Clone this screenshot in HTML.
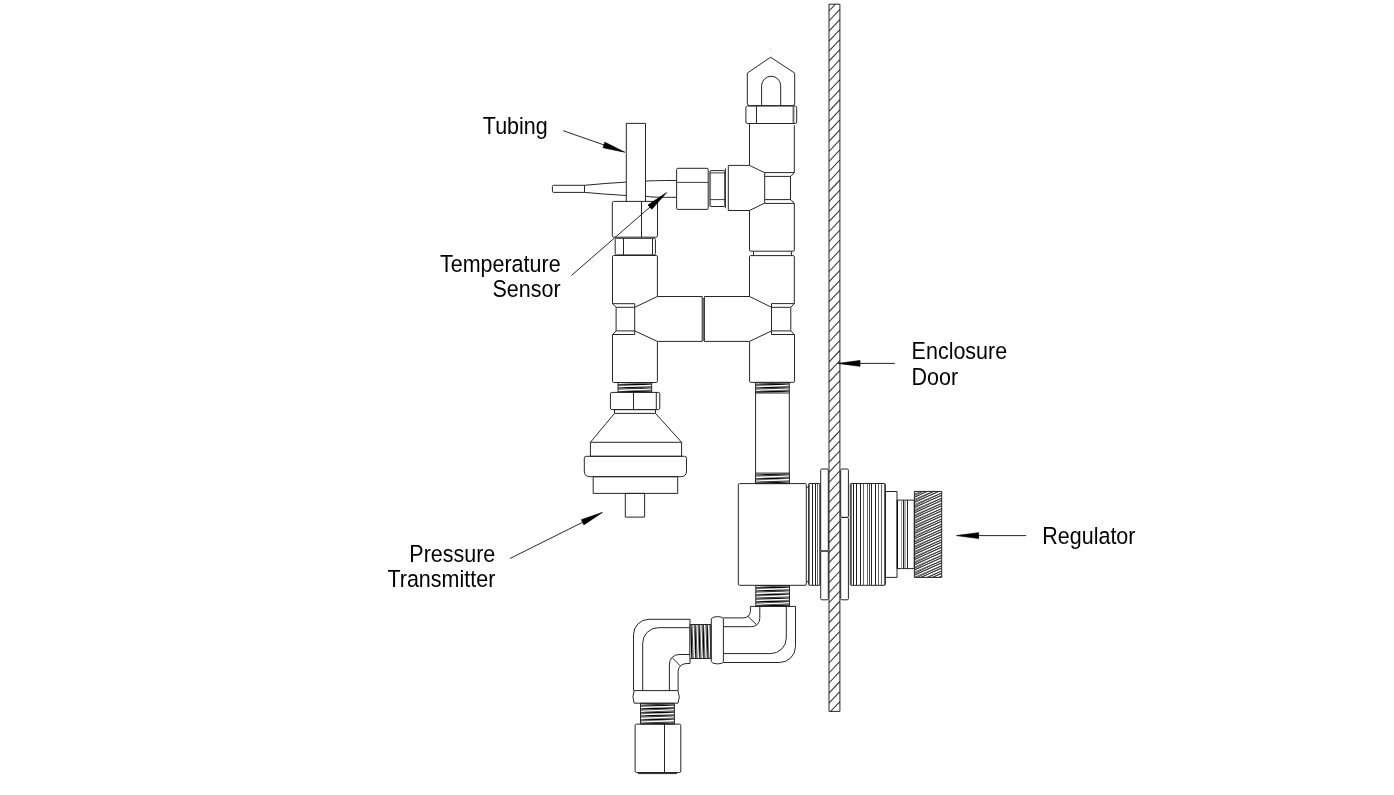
<!DOCTYPE html>
<html><head><meta charset="utf-8"><style>
html,body{margin:0;padding:0;background:#fff;width:1394px;height:795px;overflow:hidden}
svg{position:absolute;left:0;top:0;display:block;will-change:transform}
text{font-family:"Liberation Sans",sans-serif;font-size:21.5px;fill:#000;stroke:none}
</style></head><body>
<svg width="1394" height="795" viewBox="0 0 1394 795">
<g fill="none" stroke="#262626" stroke-width="1.0" stroke-linecap="butt" stroke-linejoin="round">
<clipPath id="door"><rect x="829.0" y="4.2" width="10.899999999999977" height="707.1999999999999"/></clipPath>
<g clip-path="url(#door)">
<line x1="829.0" y1="10.98" x2="839.9" y2="-0.57" stroke-width="1.05" stroke="#333"/>
<line x1="829.0" y1="21.01" x2="839.9" y2="9.46" stroke-width="1.05" stroke="#333"/>
<line x1="829.0" y1="31.04" x2="839.9" y2="19.49" stroke-width="1.05" stroke="#333"/>
<line x1="829.0" y1="41.07" x2="839.9" y2="29.52" stroke-width="1.05" stroke="#333"/>
<line x1="829.0" y1="51.1" x2="839.9" y2="39.55" stroke-width="1.05" stroke="#333"/>
<line x1="829.0" y1="61.13" x2="839.9" y2="49.58" stroke-width="1.05" stroke="#333"/>
<line x1="829.0" y1="71.16" x2="839.9" y2="59.61" stroke-width="1.05" stroke="#333"/>
<line x1="829.0" y1="81.19" x2="839.9" y2="69.64" stroke-width="1.05" stroke="#333"/>
<line x1="829.0" y1="91.22" x2="839.9" y2="79.67" stroke-width="1.05" stroke="#333"/>
<line x1="829.0" y1="101.25" x2="839.9" y2="89.7" stroke-width="1.05" stroke="#333"/>
<line x1="829.0" y1="111.28" x2="839.9" y2="99.73" stroke-width="1.05" stroke="#333"/>
<line x1="829.0" y1="121.31" x2="839.9" y2="109.76" stroke-width="1.05" stroke="#333"/>
<line x1="829.0" y1="131.34" x2="839.9" y2="119.79" stroke-width="1.05" stroke="#333"/>
<line x1="829.0" y1="141.37" x2="839.9" y2="129.82" stroke-width="1.05" stroke="#333"/>
<line x1="829.0" y1="151.4" x2="839.9" y2="139.85" stroke-width="1.05" stroke="#333"/>
<line x1="829.0" y1="161.43" x2="839.9" y2="149.88" stroke-width="1.05" stroke="#333"/>
<line x1="829.0" y1="171.46" x2="839.9" y2="159.91" stroke-width="1.05" stroke="#333"/>
<line x1="829.0" y1="181.49" x2="839.9" y2="169.94" stroke-width="1.05" stroke="#333"/>
<line x1="829.0" y1="191.52" x2="839.9" y2="179.97" stroke-width="1.05" stroke="#333"/>
<line x1="829.0" y1="201.55" x2="839.9" y2="190.0" stroke-width="1.05" stroke="#333"/>
<line x1="829.0" y1="211.58" x2="839.9" y2="200.03" stroke-width="1.05" stroke="#333"/>
<line x1="829.0" y1="221.61" x2="839.9" y2="210.06" stroke-width="1.05" stroke="#333"/>
<line x1="829.0" y1="231.64" x2="839.9" y2="220.09" stroke-width="1.05" stroke="#333"/>
<line x1="829.0" y1="241.67" x2="839.9" y2="230.12" stroke-width="1.05" stroke="#333"/>
<line x1="829.0" y1="251.7" x2="839.9" y2="240.15" stroke-width="1.05" stroke="#333"/>
<line x1="829.0" y1="261.73" x2="839.9" y2="250.18" stroke-width="1.05" stroke="#333"/>
<line x1="829.0" y1="271.76" x2="839.9" y2="260.21" stroke-width="1.05" stroke="#333"/>
<line x1="829.0" y1="281.79" x2="839.9" y2="270.24" stroke-width="1.05" stroke="#333"/>
<line x1="829.0" y1="291.82" x2="839.9" y2="280.27" stroke-width="1.05" stroke="#333"/>
<line x1="829.0" y1="301.85" x2="839.9" y2="290.3" stroke-width="1.05" stroke="#333"/>
<line x1="829.0" y1="311.88" x2="839.9" y2="300.33" stroke-width="1.05" stroke="#333"/>
<line x1="829.0" y1="321.91" x2="839.9" y2="310.36" stroke-width="1.05" stroke="#333"/>
<line x1="829.0" y1="331.94" x2="839.9" y2="320.39" stroke-width="1.05" stroke="#333"/>
<line x1="829.0" y1="341.97" x2="839.9" y2="330.42" stroke-width="1.05" stroke="#333"/>
<line x1="829.0" y1="352.0" x2="839.9" y2="340.45" stroke-width="1.05" stroke="#333"/>
<line x1="829.0" y1="362.03" x2="839.9" y2="350.48" stroke-width="1.05" stroke="#333"/>
<line x1="829.0" y1="372.06" x2="839.9" y2="360.51" stroke-width="1.05" stroke="#333"/>
<line x1="829.0" y1="382.09" x2="839.9" y2="370.54" stroke-width="1.05" stroke="#333"/>
<line x1="829.0" y1="392.12" x2="839.9" y2="380.57" stroke-width="1.05" stroke="#333"/>
<line x1="829.0" y1="402.15" x2="839.9" y2="390.6" stroke-width="1.05" stroke="#333"/>
<line x1="829.0" y1="412.18" x2="839.9" y2="400.63" stroke-width="1.05" stroke="#333"/>
<line x1="829.0" y1="422.21" x2="839.9" y2="410.66" stroke-width="1.05" stroke="#333"/>
<line x1="829.0" y1="432.24" x2="839.9" y2="420.69" stroke-width="1.05" stroke="#333"/>
<line x1="829.0" y1="442.27" x2="839.9" y2="430.72" stroke-width="1.05" stroke="#333"/>
<line x1="829.0" y1="452.3" x2="839.9" y2="440.75" stroke-width="1.05" stroke="#333"/>
<line x1="829.0" y1="462.33" x2="839.9" y2="450.78" stroke-width="1.05" stroke="#333"/>
<line x1="829.0" y1="472.36" x2="839.9" y2="460.81" stroke-width="1.05" stroke="#333"/>
<line x1="829.0" y1="482.39" x2="839.9" y2="470.84" stroke-width="1.05" stroke="#333"/>
<line x1="829.0" y1="492.42" x2="839.9" y2="480.87" stroke-width="1.05" stroke="#333"/>
<line x1="829.0" y1="502.45" x2="839.9" y2="490.9" stroke-width="1.05" stroke="#333"/>
<line x1="829.0" y1="512.48" x2="839.9" y2="500.93" stroke-width="1.05" stroke="#333"/>
<line x1="829.0" y1="522.51" x2="839.9" y2="510.96" stroke-width="1.05" stroke="#333"/>
<line x1="829.0" y1="532.54" x2="839.9" y2="520.99" stroke-width="1.05" stroke="#333"/>
<line x1="829.0" y1="542.57" x2="839.9" y2="531.02" stroke-width="1.05" stroke="#333"/>
<line x1="829.0" y1="552.6" x2="839.9" y2="541.05" stroke-width="1.05" stroke="#333"/>
<line x1="829.0" y1="562.63" x2="839.9" y2="551.08" stroke-width="1.05" stroke="#333"/>
<line x1="829.0" y1="572.66" x2="839.9" y2="561.11" stroke-width="1.05" stroke="#333"/>
<line x1="829.0" y1="582.69" x2="839.9" y2="571.14" stroke-width="1.05" stroke="#333"/>
<line x1="829.0" y1="592.72" x2="839.9" y2="581.17" stroke-width="1.05" stroke="#333"/>
<line x1="829.0" y1="602.75" x2="839.9" y2="591.2" stroke-width="1.05" stroke="#333"/>
<line x1="829.0" y1="612.78" x2="839.9" y2="601.23" stroke-width="1.05" stroke="#333"/>
<line x1="829.0" y1="622.81" x2="839.9" y2="611.26" stroke-width="1.05" stroke="#333"/>
<line x1="829.0" y1="632.84" x2="839.9" y2="621.29" stroke-width="1.05" stroke="#333"/>
<line x1="829.0" y1="642.87" x2="839.9" y2="631.32" stroke-width="1.05" stroke="#333"/>
<line x1="829.0" y1="652.9" x2="839.9" y2="641.35" stroke-width="1.05" stroke="#333"/>
<line x1="829.0" y1="662.93" x2="839.9" y2="651.38" stroke-width="1.05" stroke="#333"/>
<line x1="829.0" y1="672.96" x2="839.9" y2="661.41" stroke-width="1.05" stroke="#333"/>
<line x1="829.0" y1="682.99" x2="839.9" y2="671.44" stroke-width="1.05" stroke="#333"/>
<line x1="829.0" y1="693.02" x2="839.9" y2="681.47" stroke-width="1.05" stroke="#333"/>
<line x1="829.0" y1="703.05" x2="839.9" y2="691.5" stroke-width="1.05" stroke="#333"/>
<line x1="829.0" y1="713.08" x2="839.9" y2="701.53" stroke-width="1.05" stroke="#333"/>
</g>
<rect x="829.0" y="4.2" width="10.9" height="707.2" rx="0"/>
<path d="M747.3,73.1 L770.6,57.2 L794.7,73.1 L794.7,103.2 Q794.7,105.6 792.3,105.6 L749.7,105.6 Q747.3,105.6 747.3,103.2 Z"/>
<path d="M761.6,105.4 L761.6,85.8 A9.55,9.55 0 0 1 780.7,85.8 L780.7,105.4"/>
<rect x="745.9" y="106.0" width="50.8" height="17.5" rx="1.5"/>
<line x1="756.5" y1="106.0" x2="756.5" y2="123.5"/>
<line x1="793.2" y1="106.0" x2="793.2" y2="123.5"/>
<line x1="794.3" y1="106.5" x2="794.3" y2="123.0" stroke-width="0.6" stroke="#777"/>
<line x1="749.5" y1="123.5" x2="749.5" y2="165.4"/>
<line x1="794.3" y1="125.3" x2="794.3" y2="172.6"/>
<path d="M749.5,165.4 L728.3,165.4 L728.3,210.5 L749.5,210.5"/>
<line x1="749.5" y1="165.4" x2="764.4" y2="172.6"/>
<line x1="749.5" y1="210.5" x2="764.4" y2="203.2"/>
<line x1="725.4" y1="168.3" x2="725.4" y2="208.2"/>
<line x1="764.7" y1="172.6" x2="764.7" y2="203.4"/>
<line x1="790.5" y1="176.4" x2="790.5" y2="199.6"/>
<line x1="764.4" y1="172.6" x2="794.3" y2="172.6"/>
<line x1="764.7" y1="176.4" x2="790.8" y2="176.4"/>
<line x1="764.7" y1="199.6" x2="790.8" y2="199.6"/>
<line x1="764.4" y1="203.4" x2="794.3" y2="203.4"/>
<line x1="794.3" y1="172.6" x2="790.8" y2="176.4"/>
<line x1="790.8" y1="199.6" x2="794.3" y2="203.4"/>
<path d="M749.5,210.5 L749.5,250.0 Q749.5,251.2 750.7,251.2 L793.1,251.2 Q794.3,251.2 794.3,250.0 L794.3,203.4"/>
<line x1="753.5" y1="251.2" x2="753.5" y2="255.6"/>
<line x1="791.4" y1="251.2" x2="791.4" y2="255.6"/>
<path d="M749.5,296.5 L749.5,256.8 Q749.5,255.6 750.7,255.6 L793.1,255.6 Q794.3,255.6 794.3,256.8 L794.3,303.6"/>
<line x1="749.6" y1="296.5" x2="771.5" y2="307.3"/>
<line x1="749.6" y1="341.4" x2="771.5" y2="330.9"/>
<line x1="771.5" y1="303.6" x2="771.5" y2="334.5"/>
<line x1="790.8" y1="307.3" x2="790.8" y2="330.9"/>
<line x1="771.5" y1="303.6" x2="794.3" y2="303.6"/>
<line x1="771.5" y1="307.3" x2="790.8" y2="307.3"/>
<line x1="771.5" y1="330.9" x2="790.8" y2="330.9"/>
<line x1="771.5" y1="334.5" x2="794.3" y2="334.5"/>
<line x1="794.3" y1="303.6" x2="790.8" y2="307.3"/>
<line x1="790.8" y1="330.9" x2="794.3" y2="334.5"/>
<path d="M749.6,341.4 L749.6,381.2 Q749.6,382.4 750.8,382.4 L793.3,382.4 Q794.5,382.4 794.5,381.2 L794.5,334.5"/>
<path d="M749.6,296.5 L704.4,296.5 L704.4,341.4 L749.6,341.4"/>
<path d="M657.4,296.5 L702.2,296.5 L702.2,341.4 L657.4,341.4"/>
<line x1="703.3" y1="298.8" x2="703.3" y2="341.0" stroke-width="0.8"/>
<path d="M702.2,297.5 L703.3,298.8 L704.4,297.5" stroke-width="0.7"/>
<line x1="657.4" y1="296.5" x2="634.7" y2="307.3"/>
<line x1="657.4" y1="341.4" x2="634.7" y2="330.9"/>
<line x1="616.1" y1="307.3" x2="616.1" y2="330.9"/>
<line x1="634.7" y1="303.7" x2="634.7" y2="334.5"/>
<line x1="612.5" y1="303.7" x2="634.7" y2="303.7"/>
<line x1="616.1" y1="307.3" x2="634.7" y2="307.3"/>
<line x1="616.1" y1="330.9" x2="634.7" y2="330.9"/>
<line x1="612.5" y1="334.5" x2="634.7" y2="334.5"/>
<line x1="612.5" y1="303.7" x2="616.1" y2="307.3"/>
<line x1="616.1" y1="330.9" x2="612.5" y2="334.5"/>
<path d="M612.5,303.7 L612.5,256.7 Q612.5,255.5 613.7,255.5 L656.2,255.5 Q657.4,255.5 657.4,256.7 L657.4,296.5"/>
<path d="M612.5,334.5 L612.5,381.3 Q612.5,382.5 613.7,382.5 L656.2,382.5 Q657.4,382.5 657.4,381.3 L657.4,341.4"/>
<rect x="615.2" y="238.3" width="40.2" height="16.6" rx="1.2"/>
<line x1="623.5" y1="238.3" x2="623.5" y2="254.9"/>
<line x1="652.5" y1="238.3" x2="652.5" y2="254.9"/>
<rect x="612.3" y="201.4" width="45.2" height="35.8" rx="1.5"/>
<line x1="641.5" y1="201.4" x2="641.5" y2="237.2"/>
<path d="M626.3,201.4 L626.3,123.4 L645.5,123.4 L645.5,201.4"/>
<path d="M584.5,185.3 L553.6,185.3 Q552.4,185.3 552.4,186.5 L552.4,191.2 Q552.4,192.4 553.6,192.4 L584.5,192.4 Z"/>
<path d="M584.5,185.3 Q605,183.3 626.3,182.1"/>
<path d="M584.5,192.4 Q605,194.3 626.3,195.5"/>
<path d="M645.5,181.2 Q650,180.5 676.6,180.5"/>
<path d="M645.5,196.2 Q652,197.6 676.6,197.3"/>
<rect x="676.6" y="168.3" width="31.6" height="41.1" rx="1.2"/>
<line x1="676.6" y1="182.4" x2="708.2" y2="182.4" stroke-width="0.9"/>
<rect x="709.9" y="170.6" width="14.9" height="35.9" rx="0.8"/>
<line x1="709.9" y1="172.9" x2="724.8" y2="172.9" stroke-width="0.9"/>
<line x1="709.9" y1="199.6" x2="724.8" y2="199.6" stroke-width="0.9"/>
<line x1="710.6" y1="171" x2="710.6" y2="206" stroke-width="0.7" stroke="#666"/>
<clipPath id="c143"><rect x="618.0" y="382.5" width="33.7" height="9.7"/></clipPath>
<g clip-path="url(#c143)">
<rect x="618.0" y="382.5" width="33.7" height="9.7" fill="#6a6a6a" stroke="none"/>
<line x1="618.0" y1="379.90" x2="651.7" y2="381.50" stroke-width="1.3" stroke="#000"/>
<line x1="618.0" y1="379.70" x2="651.7" y2="378.10" stroke-width="1.3" stroke="#fff"/>
<line x1="618.0" y1="383.50" x2="651.7" y2="385.10" stroke-width="1.3" stroke="#000"/>
<line x1="618.0" y1="383.30" x2="651.7" y2="381.70" stroke-width="1.3" stroke="#fff"/>
<line x1="618.0" y1="387.10" x2="651.7" y2="388.70" stroke-width="1.3" stroke="#000"/>
<line x1="618.0" y1="386.90" x2="651.7" y2="385.30" stroke-width="1.3" stroke="#fff"/>
<line x1="618.0" y1="390.70" x2="651.7" y2="392.30" stroke-width="1.3" stroke="#000"/>
<line x1="618.0" y1="390.50" x2="651.7" y2="388.90" stroke-width="1.3" stroke="#fff"/>
<line x1="618.0" y1="394.30" x2="651.7" y2="395.90" stroke-width="1.3" stroke="#000"/>
<line x1="618.0" y1="394.10" x2="651.7" y2="392.50" stroke-width="1.3" stroke="#fff"/>
</g>
<rect x="618.0" y="382.5" width="33.7" height="9.7" rx="0"/>
<clipPath id="c158"><rect x="755.6" y="382.4" width="33.7" height="10.6"/></clipPath>
<g clip-path="url(#c158)">
<rect x="755.6" y="382.4" width="33.7" height="10.6" fill="#6a6a6a" stroke="none"/>
<line x1="755.6" y1="379.80" x2="789.3" y2="381.40" stroke-width="1.3" stroke="#000"/>
<line x1="755.6" y1="379.60" x2="789.3" y2="378.00" stroke-width="1.3" stroke="#fff"/>
<line x1="755.6" y1="383.40" x2="789.3" y2="385.00" stroke-width="1.3" stroke="#000"/>
<line x1="755.6" y1="383.20" x2="789.3" y2="381.60" stroke-width="1.3" stroke="#fff"/>
<line x1="755.6" y1="387.00" x2="789.3" y2="388.60" stroke-width="1.3" stroke="#000"/>
<line x1="755.6" y1="386.80" x2="789.3" y2="385.20" stroke-width="1.3" stroke="#fff"/>
<line x1="755.6" y1="390.60" x2="789.3" y2="392.20" stroke-width="1.3" stroke="#000"/>
<line x1="755.6" y1="390.40" x2="789.3" y2="388.80" stroke-width="1.3" stroke="#fff"/>
<line x1="755.6" y1="394.20" x2="789.3" y2="395.80" stroke-width="1.3" stroke="#000"/>
<line x1="755.6" y1="394.00" x2="789.3" y2="392.40" stroke-width="1.3" stroke="#fff"/>
</g>
<rect x="755.6" y="382.4" width="33.7" height="10.6" rx="0"/>
<clipPath id="c173"><rect x="755.5" y="473.1" width="34.0" height="10.5"/></clipPath>
<g clip-path="url(#c173)">
<rect x="755.5" y="473.1" width="34.0" height="10.5" fill="#6a6a6a" stroke="none"/>
<line x1="755.5" y1="470.50" x2="789.5" y2="472.10" stroke-width="1.3" stroke="#000"/>
<line x1="755.5" y1="470.30" x2="789.5" y2="468.70" stroke-width="1.3" stroke="#fff"/>
<line x1="755.5" y1="474.10" x2="789.5" y2="475.70" stroke-width="1.3" stroke="#000"/>
<line x1="755.5" y1="473.90" x2="789.5" y2="472.30" stroke-width="1.3" stroke="#fff"/>
<line x1="755.5" y1="477.70" x2="789.5" y2="479.30" stroke-width="1.3" stroke="#000"/>
<line x1="755.5" y1="477.50" x2="789.5" y2="475.90" stroke-width="1.3" stroke="#fff"/>
<line x1="755.5" y1="481.30" x2="789.5" y2="482.90" stroke-width="1.3" stroke="#000"/>
<line x1="755.5" y1="481.10" x2="789.5" y2="479.50" stroke-width="1.3" stroke="#fff"/>
<line x1="755.5" y1="484.90" x2="789.5" y2="486.50" stroke-width="1.3" stroke="#000"/>
<line x1="755.5" y1="484.70" x2="789.5" y2="483.10" stroke-width="1.3" stroke="#fff"/>
</g>
<rect x="755.5" y="473.1" width="34.0" height="10.5" rx="0"/>
<clipPath id="c188"><rect x="755.8" y="585.5" width="33.7" height="20.8"/></clipPath>
<g clip-path="url(#c188)">
<rect x="755.8" y="585.5" width="33.7" height="20.8" fill="#6a6a6a" stroke="none"/>
<line x1="755.8" y1="582.90" x2="789.5" y2="584.50" stroke-width="1.3" stroke="#000"/>
<line x1="755.8" y1="582.70" x2="789.5" y2="581.10" stroke-width="1.3" stroke="#fff"/>
<line x1="755.8" y1="586.50" x2="789.5" y2="588.10" stroke-width="1.3" stroke="#000"/>
<line x1="755.8" y1="586.30" x2="789.5" y2="584.70" stroke-width="1.3" stroke="#fff"/>
<line x1="755.8" y1="590.10" x2="789.5" y2="591.70" stroke-width="1.3" stroke="#000"/>
<line x1="755.8" y1="589.90" x2="789.5" y2="588.30" stroke-width="1.3" stroke="#fff"/>
<line x1="755.8" y1="593.70" x2="789.5" y2="595.30" stroke-width="1.3" stroke="#000"/>
<line x1="755.8" y1="593.50" x2="789.5" y2="591.90" stroke-width="1.3" stroke="#fff"/>
<line x1="755.8" y1="597.30" x2="789.5" y2="598.90" stroke-width="1.3" stroke="#000"/>
<line x1="755.8" y1="597.10" x2="789.5" y2="595.50" stroke-width="1.3" stroke="#fff"/>
<line x1="755.8" y1="600.90" x2="789.5" y2="602.50" stroke-width="1.3" stroke="#000"/>
<line x1="755.8" y1="600.70" x2="789.5" y2="599.10" stroke-width="1.3" stroke="#fff"/>
<line x1="755.8" y1="604.50" x2="789.5" y2="606.10" stroke-width="1.3" stroke="#000"/>
<line x1="755.8" y1="604.30" x2="789.5" y2="602.70" stroke-width="1.3" stroke="#fff"/>
<line x1="755.8" y1="608.10" x2="789.5" y2="609.70" stroke-width="1.3" stroke="#000"/>
<line x1="755.8" y1="607.90" x2="789.5" y2="606.30" stroke-width="1.3" stroke="#fff"/>
</g>
<rect x="755.8" y="585.5" width="33.7" height="20.8" rx="0"/>
<clipPath id="c209"><rect x="640.5" y="703.3" width="33.9" height="20.8"/></clipPath>
<g clip-path="url(#c209)">
<rect x="640.5" y="703.3" width="33.9" height="20.8" fill="#6a6a6a" stroke="none"/>
<line x1="640.5" y1="700.70" x2="674.4" y2="702.30" stroke-width="1.3" stroke="#000"/>
<line x1="640.5" y1="700.50" x2="674.4" y2="698.90" stroke-width="1.3" stroke="#fff"/>
<line x1="640.5" y1="704.30" x2="674.4" y2="705.90" stroke-width="1.3" stroke="#000"/>
<line x1="640.5" y1="704.10" x2="674.4" y2="702.50" stroke-width="1.3" stroke="#fff"/>
<line x1="640.5" y1="707.90" x2="674.4" y2="709.50" stroke-width="1.3" stroke="#000"/>
<line x1="640.5" y1="707.70" x2="674.4" y2="706.10" stroke-width="1.3" stroke="#fff"/>
<line x1="640.5" y1="711.50" x2="674.4" y2="713.10" stroke-width="1.3" stroke="#000"/>
<line x1="640.5" y1="711.30" x2="674.4" y2="709.70" stroke-width="1.3" stroke="#fff"/>
<line x1="640.5" y1="715.10" x2="674.4" y2="716.70" stroke-width="1.3" stroke="#000"/>
<line x1="640.5" y1="714.90" x2="674.4" y2="713.30" stroke-width="1.3" stroke="#fff"/>
<line x1="640.5" y1="718.70" x2="674.4" y2="720.30" stroke-width="1.3" stroke="#000"/>
<line x1="640.5" y1="718.50" x2="674.4" y2="716.90" stroke-width="1.3" stroke="#fff"/>
<line x1="640.5" y1="722.30" x2="674.4" y2="723.90" stroke-width="1.3" stroke="#000"/>
<line x1="640.5" y1="722.10" x2="674.4" y2="720.50" stroke-width="1.3" stroke="#fff"/>
<line x1="640.5" y1="725.90" x2="674.4" y2="727.50" stroke-width="1.3" stroke="#000"/>
<line x1="640.5" y1="725.70" x2="674.4" y2="724.10" stroke-width="1.3" stroke="#fff"/>
</g>
<rect x="640.5" y="703.3" width="33.9" height="20.8" rx="0"/>
<clipPath id="c230"><rect x="689.8" y="624.5" width="21.0" height="34.0"/></clipPath>
<g clip-path="url(#c230)">
<rect x="689.8" y="624.5" width="21.0" height="34.0" fill="#6a6a6a" stroke="none"/>
<line x1="688.65" y1="624.5" x2="687.05" y2="658.5" stroke-width="1.3" stroke="#000"/>
<line x1="685.10" y1="624.5" x2="686.70" y2="658.5" stroke-width="1.3" stroke="#fff"/>
<line x1="692.55" y1="624.5" x2="690.95" y2="658.5" stroke-width="1.3" stroke="#000"/>
<line x1="689.00" y1="624.5" x2="690.60" y2="658.5" stroke-width="1.3" stroke="#fff"/>
<line x1="696.45" y1="624.5" x2="694.85" y2="658.5" stroke-width="1.3" stroke="#000"/>
<line x1="692.90" y1="624.5" x2="694.50" y2="658.5" stroke-width="1.3" stroke="#fff"/>
<line x1="700.35" y1="624.5" x2="698.75" y2="658.5" stroke-width="1.3" stroke="#000"/>
<line x1="696.80" y1="624.5" x2="698.40" y2="658.5" stroke-width="1.3" stroke="#fff"/>
<line x1="704.25" y1="624.5" x2="702.65" y2="658.5" stroke-width="1.3" stroke="#000"/>
<line x1="700.70" y1="624.5" x2="702.30" y2="658.5" stroke-width="1.3" stroke="#fff"/>
<line x1="708.15" y1="624.5" x2="706.55" y2="658.5" stroke-width="1.3" stroke="#000"/>
<line x1="704.60" y1="624.5" x2="706.20" y2="658.5" stroke-width="1.3" stroke="#fff"/>
<line x1="712.05" y1="624.5" x2="710.45" y2="658.5" stroke-width="1.3" stroke="#000"/>
<line x1="708.50" y1="624.5" x2="710.10" y2="658.5" stroke-width="1.3" stroke="#fff"/>
<line x1="715.95" y1="624.5" x2="714.35" y2="658.5" stroke-width="1.3" stroke="#000"/>
<line x1="712.40" y1="624.5" x2="714.00" y2="658.5" stroke-width="1.3" stroke="#fff"/>
</g>
<rect x="689.8" y="624.5" width="21.0" height="34.0" rx="0"/>
<line x1="755.6" y1="393.0" x2="755.6" y2="473.1"/>
<line x1="789.3" y1="393.0" x2="789.3" y2="473.1"/>
<rect x="610.4" y="392.4" width="49.4" height="17.2" rx="1.5"/>
<line x1="633.5" y1="392.4" x2="633.5" y2="409.6"/>
<line x1="656.3" y1="392.4" x2="656.3" y2="409.6"/>
<rect x="614.5" y="409.6" width="41.0" height="3.8" rx="0"/>
<line x1="614.5" y1="413.4" x2="590.4" y2="442.3"/>
<line x1="655.5" y1="413.4" x2="681.6" y2="442.3"/>
<rect x="590.4" y="442.3" width="91.2" height="14.0" rx="0"/>
<path d="M586.3,456.3 L684.5,456.3 Q686.5,456.3 686.5,458.3 L686.5,471.0 Q686.5,476.7 680.8,476.7 L590.0,476.7 Q584.3,476.7 584.3,471.0 L584.3,458.3 Q584.3,456.3 586.3,456.3 Z"/>
<rect x="593.2" y="476.7" width="84.5" height="16.7" rx="0"/>
<rect x="625.3" y="493.4" width="19.3" height="23.7" rx="0"/>
<rect x="738.3" y="483.6" width="68.0" height="101.7" rx="1.2"/>
<path d="M806.3,487.2 L808.6,487.2 M806.3,581.6 L808.6,581.6"/>
<rect x="808.6" y="483.5" width="11.5" height="101.8" rx="0.8"/>
<line x1="809.5" y1="484" x2="809.5" y2="585" stroke-width="1.0" stroke="#777"/>
<line x1="812.5" y1="484" x2="812.5" y2="585" stroke-width="1.0" stroke="#222"/>
<line x1="815.5" y1="484" x2="815.5" y2="585" stroke-width="1.0" stroke="#222"/>
<line x1="817.5" y1="484" x2="817.5" y2="585" stroke-width="1.0" stroke="#666"/>
<line x1="819.5" y1="484" x2="819.5" y2="585" stroke-width="1.0" stroke="#666"/>
<rect x="820.7" y="469.0" width="7.6" height="82.0" rx="1.2"/>
<rect x="820.7" y="551.0" width="7.6" height="48.8" rx="1.2"/>
<rect x="840.7" y="469.0" width="7.7" height="48.4" rx="1.2"/>
<rect x="840.7" y="517.4" width="7.7" height="82.4" rx="1.2"/>
<rect x="850.3" y="483.5" width="35.1" height="101.8" rx="0.8"/>
<line x1="851.5" y1="484" x2="851.5" y2="585" stroke-width="1.0" stroke="#777"/>
<line x1="853.5" y1="484" x2="853.5" y2="585" stroke-width="1.0" stroke="#222"/>
<line x1="856.5" y1="484" x2="856.5" y2="585" stroke-width="1.0" stroke="#222"/>
<line x1="860.5" y1="484" x2="860.5" y2="585" stroke-width="1.0" stroke="#222"/>
<line x1="863.5" y1="484" x2="863.5" y2="585" stroke-width="1.0" stroke="#666"/>
<line x1="867.5" y1="484" x2="867.5" y2="585" stroke-width="1.0" stroke="#666"/>
<line x1="869.5" y1="484" x2="869.5" y2="585" stroke-width="1.0" stroke="#444"/>
<line x1="871.5" y1="484" x2="871.5" y2="585" stroke-width="1.0" stroke="#222"/>
<line x1="875.5" y1="484" x2="875.5" y2="585" stroke-width="1.0" stroke="#222"/>
<line x1="878.5" y1="484" x2="878.5" y2="585" stroke-width="1.0" stroke="#666"/>
<line x1="881.5" y1="484" x2="881.5" y2="585" stroke-width="1.0" stroke="#666"/>
<line x1="884.5" y1="484" x2="884.5" y2="585" stroke-width="1.0" stroke="#666"/>
<rect x="885.4" y="491.5" width="11.6" height="85.9" rx="0"/>
<rect x="897.1" y="500.1" width="17.2" height="68.5" rx="0"/>
<line x1="897.5" y1="500.1" x2="897.5" y2="568.6" stroke-width="1.0" stroke="#111"/>
<line x1="901.5" y1="500.1" x2="901.5" y2="568.6" stroke-width="1.0" stroke="#999"/>
<line x1="903.5" y1="500.1" x2="903.5" y2="568.6" stroke-width="1.0" stroke="#222"/>
<line x1="905.0" y1="500.1" x2="905.0" y2="568.6" stroke-width="1.0" stroke="#666"/>
<line x1="907.5" y1="500.1" x2="907.5" y2="568.6" stroke-width="1.0" stroke="#222"/>
<clipPath id="knob"><rect x="914.4" y="491.4" width="27.3" height="86"/></clipPath>
<g clip-path="url(#knob)">
<line x1="914.4" y1="490.2" x2="941.7" y2="477.4" stroke-width="0.9"/>
<line x1="914.4" y1="492.2" x2="941.7" y2="479.4" stroke-width="0.9"/>
<line x1="914.4" y1="495.4" x2="941.7" y2="482.6" stroke-width="0.9"/>
<line x1="914.4" y1="497.4" x2="941.7" y2="484.6" stroke-width="0.9"/>
<line x1="914.4" y1="500.6" x2="941.7" y2="487.8" stroke-width="0.9"/>
<line x1="914.4" y1="502.6" x2="941.7" y2="489.8" stroke-width="0.9"/>
<line x1="914.4" y1="505.8" x2="941.7" y2="493.0" stroke-width="0.9"/>
<line x1="914.4" y1="507.8" x2="941.7" y2="495.0" stroke-width="0.9"/>
<line x1="914.4" y1="511.0" x2="941.7" y2="498.2" stroke-width="0.9"/>
<line x1="914.4" y1="513.0" x2="941.7" y2="500.2" stroke-width="0.9"/>
<line x1="914.4" y1="516.2" x2="941.7" y2="503.4" stroke-width="0.9"/>
<line x1="914.4" y1="518.2" x2="941.7" y2="505.4" stroke-width="0.9"/>
<line x1="914.4" y1="521.4" x2="941.7" y2="508.6" stroke-width="0.9"/>
<line x1="914.4" y1="523.4" x2="941.7" y2="510.6" stroke-width="0.9"/>
<line x1="914.4" y1="526.6" x2="941.7" y2="513.8" stroke-width="0.9"/>
<line x1="914.4" y1="528.6" x2="941.7" y2="515.8" stroke-width="0.9"/>
<line x1="914.4" y1="531.8" x2="941.7" y2="519.0" stroke-width="0.9"/>
<line x1="914.4" y1="533.8" x2="941.7" y2="521.0" stroke-width="0.9"/>
<line x1="914.4" y1="537.0" x2="941.7" y2="524.2" stroke-width="0.9"/>
<line x1="914.4" y1="539.0" x2="941.7" y2="526.2" stroke-width="0.9"/>
<line x1="914.4" y1="542.2" x2="941.7" y2="529.4" stroke-width="0.9"/>
<line x1="914.4" y1="544.2" x2="941.7" y2="531.4" stroke-width="0.9"/>
<line x1="914.4" y1="547.4" x2="941.7" y2="534.6" stroke-width="0.9"/>
<line x1="914.4" y1="549.4" x2="941.7" y2="536.6" stroke-width="0.9"/>
<line x1="914.4" y1="552.6" x2="941.7" y2="539.8" stroke-width="0.9"/>
<line x1="914.4" y1="554.6" x2="941.7" y2="541.8" stroke-width="0.9"/>
<line x1="914.4" y1="557.8" x2="941.7" y2="545.0" stroke-width="0.9"/>
<line x1="914.4" y1="559.8" x2="941.7" y2="547.0" stroke-width="0.9"/>
<line x1="914.4" y1="563.0" x2="941.7" y2="550.2" stroke-width="0.9"/>
<line x1="914.4" y1="565.0" x2="941.7" y2="552.2" stroke-width="0.9"/>
<line x1="914.4" y1="568.2" x2="941.7" y2="555.4" stroke-width="0.9"/>
<line x1="914.4" y1="570.2" x2="941.7" y2="557.4" stroke-width="0.9"/>
<line x1="914.4" y1="573.4" x2="941.7" y2="560.6" stroke-width="0.9"/>
<line x1="914.4" y1="575.4" x2="941.7" y2="562.6" stroke-width="0.9"/>
<line x1="914.4" y1="578.6" x2="941.7" y2="565.8" stroke-width="0.9"/>
<line x1="914.4" y1="580.6" x2="941.7" y2="567.8" stroke-width="0.9"/>
<line x1="914.4" y1="583.8" x2="941.7" y2="571.0" stroke-width="0.9"/>
<line x1="914.4" y1="585.8" x2="941.7" y2="573.0" stroke-width="0.9"/>
<line x1="914.4" y1="589.0" x2="941.7" y2="576.2" stroke-width="0.9"/>
<line x1="914.4" y1="591.0" x2="941.7" y2="578.2" stroke-width="0.9"/>
<line x1="914.4" y1="594.2" x2="941.7" y2="581.4" stroke-width="0.9"/>
<line x1="914.4" y1="596.2" x2="941.7" y2="583.4" stroke-width="0.9"/>
<line x1="914.4" y1="599.4" x2="941.7" y2="586.6" stroke-width="0.9"/>
<line x1="914.4" y1="601.4" x2="941.7" y2="588.6" stroke-width="0.9"/>
<line x1="914.4" y1="604.6" x2="941.7" y2="591.8" stroke-width="0.9"/>
<line x1="914.4" y1="606.6" x2="941.7" y2="593.8" stroke-width="0.9"/>
<line x1="914.4" y1="488.9" x2="941.7" y2="477.4" stroke-width="0.75" stroke="#333"/>
<line x1="914.4" y1="491.5" x2="941.7" y2="480.0" stroke-width="0.75" stroke="#333"/>
<line x1="914.4" y1="494.1" x2="941.7" y2="482.6" stroke-width="0.75" stroke="#333"/>
<line x1="914.4" y1="496.7" x2="941.7" y2="485.2" stroke-width="0.75" stroke="#333"/>
<line x1="914.4" y1="499.3" x2="941.7" y2="487.8" stroke-width="0.75" stroke="#333"/>
<line x1="914.4" y1="501.9" x2="941.7" y2="490.4" stroke-width="0.75" stroke="#333"/>
<line x1="914.4" y1="504.5" x2="941.7" y2="493.0" stroke-width="0.75" stroke="#333"/>
<line x1="914.4" y1="507.1" x2="941.7" y2="495.6" stroke-width="0.75" stroke="#333"/>
<line x1="914.4" y1="509.7" x2="941.7" y2="498.2" stroke-width="0.75" stroke="#333"/>
<line x1="914.4" y1="512.3" x2="941.7" y2="500.8" stroke-width="0.75" stroke="#333"/>
<line x1="914.4" y1="514.9" x2="941.7" y2="503.4" stroke-width="0.75" stroke="#333"/>
<line x1="914.4" y1="517.5" x2="941.7" y2="506.0" stroke-width="0.75" stroke="#333"/>
<line x1="914.4" y1="520.1" x2="941.7" y2="508.6" stroke-width="0.75" stroke="#333"/>
<line x1="914.4" y1="522.7" x2="941.7" y2="511.2" stroke-width="0.75" stroke="#333"/>
<line x1="914.4" y1="525.3" x2="941.7" y2="513.8" stroke-width="0.75" stroke="#333"/>
<line x1="914.4" y1="527.9" x2="941.7" y2="516.4" stroke-width="0.75" stroke="#333"/>
<line x1="914.4" y1="530.5" x2="941.7" y2="519.0" stroke-width="0.75" stroke="#333"/>
<line x1="914.4" y1="533.1" x2="941.7" y2="521.6" stroke-width="0.75" stroke="#333"/>
<line x1="914.4" y1="535.7" x2="941.7" y2="524.2" stroke-width="0.75" stroke="#333"/>
<line x1="914.4" y1="538.3" x2="941.7" y2="526.8" stroke-width="0.75" stroke="#333"/>
<line x1="914.4" y1="540.9" x2="941.7" y2="529.4" stroke-width="0.75" stroke="#333"/>
<line x1="914.4" y1="543.5" x2="941.7" y2="532.0" stroke-width="0.75" stroke="#333"/>
<line x1="914.4" y1="546.1" x2="941.7" y2="534.6" stroke-width="0.75" stroke="#333"/>
<line x1="914.4" y1="548.7" x2="941.7" y2="537.2" stroke-width="0.75" stroke="#333"/>
<line x1="914.4" y1="551.3" x2="941.7" y2="539.8" stroke-width="0.75" stroke="#333"/>
<line x1="914.4" y1="553.9" x2="941.7" y2="542.4" stroke-width="0.75" stroke="#333"/>
<line x1="914.4" y1="556.5" x2="941.7" y2="545.0" stroke-width="0.75" stroke="#333"/>
<line x1="914.4" y1="559.1" x2="941.7" y2="547.6" stroke-width="0.75" stroke="#333"/>
<line x1="914.4" y1="561.7" x2="941.7" y2="550.2" stroke-width="0.75" stroke="#333"/>
<line x1="914.4" y1="564.3" x2="941.7" y2="552.8" stroke-width="0.75" stroke="#333"/>
<line x1="914.4" y1="566.9" x2="941.7" y2="555.4" stroke-width="0.75" stroke="#333"/>
<line x1="914.4" y1="569.5" x2="941.7" y2="558.0" stroke-width="0.75" stroke="#333"/>
<line x1="914.4" y1="572.1" x2="941.7" y2="560.6" stroke-width="0.75" stroke="#333"/>
<line x1="914.4" y1="574.7" x2="941.7" y2="563.2" stroke-width="0.75" stroke="#333"/>
<line x1="914.4" y1="577.3" x2="941.7" y2="565.8" stroke-width="0.75" stroke="#333"/>
<line x1="914.4" y1="579.9" x2="941.7" y2="568.4" stroke-width="0.75" stroke="#333"/>
<line x1="914.4" y1="582.5" x2="941.7" y2="571.0" stroke-width="0.75" stroke="#333"/>
<line x1="914.4" y1="585.1" x2="941.7" y2="573.6" stroke-width="0.75" stroke="#333"/>
<line x1="914.4" y1="587.7" x2="941.7" y2="576.2" stroke-width="0.75" stroke="#333"/>
<line x1="914.4" y1="590.3" x2="941.7" y2="578.8" stroke-width="0.75" stroke="#333"/>
<line x1="914.4" y1="592.9" x2="941.7" y2="581.4" stroke-width="0.75" stroke="#333"/>
<line x1="914.4" y1="595.5" x2="941.7" y2="584.0" stroke-width="0.75" stroke="#333"/>
<line x1="914.4" y1="598.1" x2="941.7" y2="586.6" stroke-width="0.75" stroke="#333"/>
<line x1="914.4" y1="600.7" x2="941.7" y2="589.2" stroke-width="0.75" stroke="#333"/>
<line x1="914.4" y1="603.3" x2="941.7" y2="591.8" stroke-width="0.75" stroke="#333"/>
</g>
<rect x="914.4" y="491.4" width="27.3" height="86.0" rx="0"/>
<path d="M750.4,606.4 L795.5,606.4 L795.5,646.5 A16,16 0 0 1 779.5,662.5 L723.4,662.5"/>
<path d="M786.3,606.4 L786.3,638.0 A15.6,15.6 0 0 1 770.7,653.6 L723.4,653.6"/>
<path d="M759.8,606.4 L759.8,618.5 A8.2,8.2 0 0 1 751.6,626.7 L723.4,626.7"/>
<path d="M750.4,606.4 L750.4,611.2 A6.7,6.7 0 0 1 743.7,617.9 L723.4,617.9"/>
<line x1="747.6" y1="616.0" x2="756.5" y2="624.7"/>
<path d="M711.3,619.0 Q711.3,616.9 717.3,616.6 Q723.4,616.9 723.4,619.0 L723.4,661.5 Q723.4,663.6 717.3,663.9 Q711.3,663.6 711.3,661.5 Z"/>
<path d="M690.0,624.5 L690.0,619.3 L648.9,619.3 A15.4,15.4 0 0 0 633.5,634.7 L633.5,690.6"/>
<path d="M689.5,627.7 L658.2,627.7 A15.5,15.5 0 0 0 642.7,643.2 L642.7,690.6"/>
<path d="M690.0,658.5 L690.0,663.4"/>
<path d="M690.0,654.5 L679.0,654.5 A9.6,9.6 0 0 0 669.4,664.1 L669.4,690.6"/>
<path d="M690.0,663.4 L686.1,663.6 A8,8 0 0 0 678.1,671.6 L678.1,690.6"/>
<line x1="672.6" y1="658.0" x2="680.2" y2="665.8"/>
<path d="M634.2,690.6 L678.0,690.6 Q680.6,696.9 678.0,703.2 L634.2,703.2 Q631.6,696.9 634.2,690.6 Z"/>
<rect x="635.1" y="724.1" width="45.7" height="48.4" rx="1.5"/>
<line x1="664.5" y1="724.1" x2="664.5" y2="772.5"/>
<line x1="638" y1="773.6" x2="677" y2="773.6" stroke-width="1.0"/>
<line x1="563.2" y1="130.7" x2="604.8785459336613" y2="145.2468950904824" stroke-width="1.0"/>
<path d="M624.80,152.20 L602.98,147.66 L604.89,142.18 Z" fill="#000" stroke="#000" stroke-width="0.7"/>
<line x1="571.3" y1="275.6" x2="650.6886115872347" y2="206.4577674528806" stroke-width="1.0"/>
<path d="M666.60,192.60 L651.84,209.30 L648.03,204.93 Z" fill="#000" stroke="#000" stroke-width="0.7"/>
<line x1="510.0" y1="558.5" x2="583.5194199382296" y2="521.8198565026798" stroke-width="1.0"/>
<path d="M602.40,512.40 L583.92,524.86 L581.33,519.67 Z" fill="#000" stroke="#000" stroke-width="0.7"/>
<line x1="894.8" y1="363.4" x2="859.0" y2="363.4" stroke-width="1.0"/>
<path d="M837.90,363.40 L860.00,360.50 L860.00,366.30 Z" fill="#000" stroke="#000" stroke-width="0.7"/>
<line x1="1026.1" y1="535.6" x2="977.6" y2="535.6" stroke-width="1.0"/>
<path d="M956.50,535.60 L978.60,532.70 L978.60,538.50 Z" fill="#000" stroke="#000" stroke-width="0.7"/>
<rect x="770" y="49" width="1" height="1" fill="#c8c8c8" stroke="none"/>
<rect x="560" y="276" width="1" height="1" fill="#eee" stroke="none"/>
<rect x="912" y="364" width="1" height="1" fill="#eee" stroke="none"/>
<rect x="495" y="566" width="1" height="1" fill="#eee" stroke="none"/>
<text transform="translate(482.8,133.8) scale(1,1.085)" text-anchor="start">Tubing</text>
<text transform="translate(560.6,271.9) scale(1,1.085)" text-anchor="end">Temperature</text>
<text transform="translate(560.6,296.7) scale(1,1.085)" text-anchor="end">Sensor</text>
<text transform="translate(911.6,359.2) scale(1,1.085)" text-anchor="start">Enclosure</text>
<text transform="translate(911.6,384.5) scale(1,1.085)" text-anchor="start">Door</text>
<text transform="translate(1042.3,543.8) scale(1,1.085)" text-anchor="start">Regulator</text>
<text transform="translate(495.3,561.6) scale(1,1.085)" text-anchor="end">Pressure</text>
<text transform="translate(495.3,587.4) scale(1,1.085)" text-anchor="end">Transmitter</text>
</g>
</svg>
</body></html>
